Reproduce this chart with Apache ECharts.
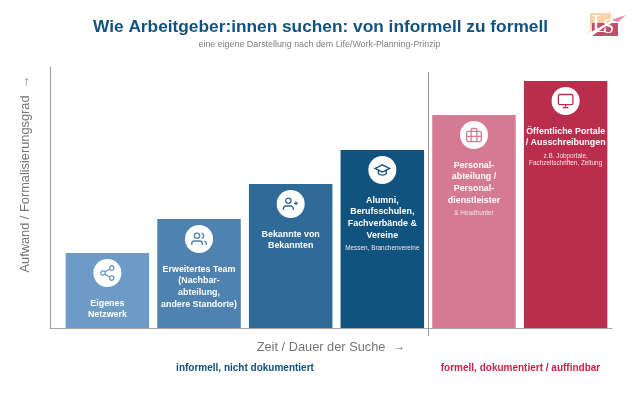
<!DOCTYPE html>
<html>
<head>
<meta charset="utf-8">
<style>html,body{margin:0;padding:0;background:#fff}#main{width:640px;height:403px}</style>
<script src="https://cdn.jsdelivr.net/npm/echarts@6/dist/echarts.min.js"></script>
</head>
<body>
<div id="main"></div>
<script>
var font = 'Liberation Sans';
var steps = [0, 1, 2, 3, 4, 5];
var values = [75, 109, 144, 178, 213, 247];
var names = [
    'Eigenes\nNetzwerk',
    'Erweitertes Team\n(Nachbar-\nabteilung,\nandere Standorte)',
    'Bekannte von\nBekannten',
    'Alumni,\nBerufsschulen,\nFachverbände &\nVereine',
    'Personal-\nabteilung /\nPersonal-\ndienstleister',
    'Öffentliche Portale\n/ Ausschreibungen'
];
var notes = ['', '', '', 'Messen, Branchenvereine', '& Headhunter', 'z.B. Jobportale,\nFachzeitschriften, Zeitung'];
var colors = ['#6c9bc7', '#4f82ae', '#2f6b99', '#11537f', '#d57b91', '#bb2d4c'];
// Icon outlines, 24x24 grid
var icons = [
    'path://M18 2a3 3 0 1 0 0 6a3 3 0 1 0 0-6zM6 9a3 3 0 1 0 0 6a3 3 0 1 0 0-6zM18 16a3 3 0 1 0 0 6a3 3 0 1 0 0-6zM8.6 13.5L15.4 17.5M15.4 6.5L8.6 10.5',
    'path://M17 21v-2a4 4 0 0 0-4-4H5a4 4 0 0 0-4 4v2M9 3a4 4 0 1 0 0 8a4 4 0 1 0 0-8zM23 21v-2a4 4 0 0 0-3-3.9M16 3.1a4 4 0 0 1 0 7.8',
    'path://M16 21v-2a4 4 0 0 0-4-4H5a4 4 0 0 0-4 4v2M8.5 3a4 4 0 1 0 0 8a4 4 0 1 0 0-8zM20 8v6M23 11h-6',
    'path://M12 4L1 9.5L12 15L23 9.5ZM6 12.5V17.5C8 20.5 16 20.5 18 17.5V12.5',
    'path://M4 7h16a2 2 0 0 1 2 2v10a2 2 0 0 1-2 2H4a2 2 0 0 1-2-2V9a2 2 0 0 1 2-2zM16 21V5a2 2 0 0 0-2-2h-4a2 2 0 0 0-2 2v16M2 14h20',
    'path://M4 3h16a2 2 0 0 1 2 2v10a2 2 0 0 1-2 2H4a2 2 0 0 1-2-2V5a2 2 0 0 1 2-2zM8 21h8M12 17v4'
];

var barData = values.map(function (v, i) {
    return {
        value: [steps[i], v],
        itemStyle: { color: colors[i] },
        label: {
            formatter: '{t|' + names[i].split('\n').join('}\n{t|') + '}' +
                (notes[i] ? '\n{s| }\n{n|' + notes[i].split('\n').join('}\n{n|') + '}' : '')
        }
    };
});

var option = {
    animation: false,
    backgroundColor: '#fff',
    title: [
        { text: 'Wie Arbeitgeber:innen suchen: von informell zu formell', left: 315.5, top: 13.4, textAlign: 'center',
          textStyle: { fontFamily: font, fontSize: 17.3, fontWeight: 'bold', color: '#11527f' } },
        { text: 'eine eigene Darstellung nach dem Life/Work-Planning-Prinzip', left: 314.5, top: 35, textAlign: 'center',
          textStyle: { fontFamily: font, fontSize: 8.9, fontWeight: 'normal', color: '#808080' } },
        { text: 'informell, nicht dokumentiert', left: 240, top: 358.6, textAlign: 'center',
          textStyle: { fontFamily: font, fontSize: 10, fontWeight: 'bold', color: '#11527f' } },
        { text: 'formell, dokumentiert / auffindbar', left: 515.5, top: 358.6, textAlign: 'center',
          textStyle: { fontFamily: font, fontSize: 10, fontWeight: 'bold', color: '#c8244b' } }
    ],
    grid: { left: 50, right: 28, top: 67, bottom: 75 },
    xAxis: {
        type: 'value', min: -0.626, max: 5.506,
        splitLine: { show: false }, axisTick: { show: false }, axisLabel: { show: false },
        axisLine: { lineStyle: { color: '#a6a6a6', width: 1.2 } },
        name: 'Zeit / Dauer der Suche  →', nameLocation: 'center', nameGap: 13,
        nameTextStyle: { fontFamily: font, fontSize: 12.8, color: '#757575' }
    },
    yAxis: {
        type: 'value', min: 0, max: 261,
        splitLine: { show: false }, axisTick: { show: false }, axisLabel: { show: false },
        axisLine: { show: true, onZero: false, lineStyle: { color: '#a6a6a6', width: 1.2 } },
        name: 'Aufwand / Formalisierungsgrad  →', nameLocation: 'center', nameGap: 18,
        nameTextStyle: { fontFamily: font, fontSize: 12.8, color: '#757575', padding: [0, 0, 0, 47] }
    },
    series: [
        {
            type: 'bar', barWidth: 83.5, data: barData, silent: true,
            label: {
                show: true, position: 'insideTop', distance: 44.5, align: 'center',
                rich: {
                    t: { fontFamily: font, fontSize: 8.9, fontWeight: 'bold', color: '#fff', lineHeight: 11.6, align: 'center' },
                    s: { fontSize: 1, lineHeight: 4 },
                    n: { fontFamily: font, fontSize: 6.4, color: '#f3e3e7', lineHeight: 6.8, align: 'center' }
                }
            }
        },
        {
            type: 'scatter', symbol: 'circle', symbolSize: 28, symbolOffset: [0, 20], silent: true, z: 3,
            itemStyle: { color: '#fff', opacity: 1 },
            data: values.map(function (v, i) { return [steps[i], v]; })
        },
        {
            type: 'scatter', symbolSize: 14.5, symbolKeepAspect: true, silent: true, z: 4,
            symbolOffset: [0, 20],
            data: values.map(function (v, i) {
                return {
                    value: [steps[i], v], symbol: icons[i],
                    itemStyle: { color: 'none', borderColor: colors[i], borderWidth: 1.3, opacity: 1 }
                };
            })
        }
    ],
    graphic: [
        // divider between informal and formal
        { type: 'line', shape: { x1: 428.5, y1: 72, x2: 428.5, y2: 336 }, style: { stroke: '#999', lineWidth: 1 }, z: 5 },
        // logo
        { type: 'rect', shape: { x: 590, y: 13, width: 21, height: 11 }, style: { fill: '#f8d5a8' } },
        { type: 'polygon', shape: { points: [[590, 24], [598, 24], [586, 35], [590, 30]] }, style: { fill: '#f8d5a8' } },
        { type: 'rect', shape: { x: 592, y: 23, width: 26, height: 13 }, style: { fill: '#c44f6b' } },
        { type: 'polygon', shape: { points: [[584, 36], [611, 21], [626, 15], [603, 28], [592, 36]] }, style: { fill: '#fff' } },
        { type: 'polygon', shape: { points: [[611, 20], [626, 15], [618, 22]] }, style: { fill: '#e58aa0' } },
        { type: 'text', style: { x: 592, y: 13, text: 'L', fontFamily: 'Liberation Serif', fontSize: 25, fill: '#fff' } },
        { type: 'text', style: { x: 603, y: 18, text: 'S', fontFamily: 'Liberation Serif', fontSize: 20, fill: '#fff' } }
    ]
};

var myChart = echarts.init(document.getElementById('main'), null, { renderer: 'canvas' });
myChart.setOption(option);
</script>
</body>
</html>
